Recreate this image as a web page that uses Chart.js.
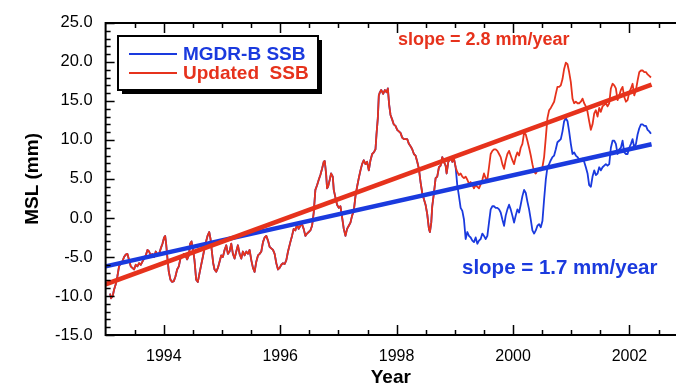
<!DOCTYPE html>
<html>
<head>
<meta charset="utf-8">
<script src="https://cdn.jsdelivr.net/npm/chart.js@4"></script>
<style>
  body { margin: 0; background: #fff; }
  #mslChart { display: block; }
</style>
</head>
<body>
<canvas id="mslChart" width="676" height="389"></canvas>
<script>
// MSL anomaly (mm) per ~10 day cycle, both SSB models agree until early 1999
var commonYears = [
  1993.076, 1993.093, 1993.122, 1993.145, 1993.174, 1993.202, 1993.231, 1993.260, 1993.288, 1993.317,
  1993.346, 1993.374, 1993.403, 1993.432, 1993.460, 1993.489, 1993.518, 1993.546, 1993.575, 1993.604,
  1993.633, 1993.661, 1993.690, 1993.719, 1993.747, 1993.776, 1993.805, 1993.833, 1993.862, 1993.891,
  1993.919, 1993.948, 1993.977, 1994.005, 1994.023, 1994.040, 1994.063, 1994.086, 1994.114, 1994.143,
  1994.172, 1994.200, 1994.229, 1994.258, 1994.286, 1994.315, 1994.344, 1994.372, 1994.401, 1994.430,
  1994.453, 1994.476, 1994.499, 1994.527, 1994.556, 1994.585, 1994.608, 1994.637, 1994.665, 1994.694,
  1994.723, 1994.751, 1994.780, 1994.803, 1994.826, 1994.849, 1994.872, 1994.900, 1994.929, 1994.958,
  1994.986, 1995.015, 1995.044, 1995.073, 1995.101, 1995.130, 1995.159, 1995.187, 1995.216, 1995.245,
  1995.273, 1995.302, 1995.331, 1995.359, 1995.388, 1995.417, 1995.445, 1995.474, 1995.503, 1995.532,
  1995.560, 1995.589, 1995.618, 1995.646, 1995.675, 1995.704, 1995.732, 1995.761, 1995.790, 1995.818,
  1995.847, 1995.876, 1995.904, 1995.933, 1995.962, 1995.990, 1996.019, 1996.048, 1996.077, 1996.105,
  1996.134, 1996.174, 1996.203, 1996.231, 1996.260, 1996.289, 1996.317, 1996.346, 1996.375, 1996.403,
  1996.432, 1996.461, 1996.490, 1996.518, 1996.547, 1996.576, 1996.604, 1996.633, 1996.662, 1996.690,
  1996.719, 1996.748, 1996.765, 1996.788, 1996.805, 1996.822, 1996.851, 1996.874, 1996.903, 1996.920,
  1996.949, 1996.977, 1997.006, 1997.035, 1997.063, 1997.092, 1997.121, 1997.149, 1997.178, 1997.207,
  1997.235, 1997.264, 1997.293, 1997.321, 1997.350, 1997.379, 1997.407, 1997.436, 1997.465, 1997.493,
  1997.522, 1997.551, 1997.580, 1997.608, 1997.637, 1997.654, 1997.677, 1997.694, 1997.712, 1997.735,
  1997.769, 1997.798, 1997.826, 1997.849, 1997.872, 1997.895, 1997.924, 1997.950, 1997.981, 1998.010,
  1998.067, 1998.096, 1998.125, 1998.182, 1998.211, 1998.239, 1998.268, 1998.297, 1998.325, 1998.354,
  1998.383, 1998.411, 1998.440, 1998.469, 1998.497, 1998.526, 1998.555, 1998.572, 1998.595, 1998.612,
  1998.641, 1998.670, 1998.698, 1998.727, 1998.756, 1998.784, 1998.813, 1998.842, 1998.859, 1998.888,
  1998.910, 1998.933, 1998.956, 1998.985, 1999.014
];
var commonMsl = [
  -9.7, -10.3, -10.0, -9.2, -8.5, -7.5, -6.2, -5.8, -5.6, -5.0,
  -4.7, -4.6, -5.4, -6.2, -6.4, -6.6, -6.0, -6.2, -5.8, -6.0,
  -5.6, -5.2, -4.8, -4.1, -4.3, -4.8, -4.6, -5.0, -4.3, -4.7,
  -4.6, -3.9, -3.3, -2.5, -2.3, -3.3, -5.2, -6.9, -7.9, -8.2,
  -8.1, -7.5, -6.6, -6.2, -5.2, -5.0, -4.6, -4.8, -5.3, -4.8,
  -3.3, -3.0, -3.9, -5.4, -7.9, -8.2, -7.3, -6.2, -5.2, -4.1,
  -3.1, -2.3, -1.8, -2.7, -4.3, -5.8, -6.6, -6.9, -6.4, -5.6,
  -4.8, -5.0, -4.1, -3.5, -4.6, -4.3, -3.3, -4.6, -5.2, -4.3,
  -3.5, -4.6, -5.2, -4.3, -4.8, -4.3, -4.6, -4.1, -5.4, -6.4,
  -6.9, -5.6, -4.8, -4.6, -4.3, -3.1, -2.5, -2.3, -2.9, -3.7,
  -3.9, -4.1, -4.6, -5.8, -6.6, -6.4, -6.0, -5.8, -5.9, -5.4,
  -4.3, -3.1, -2.3, -1.4, -1.6, -0.8, -1.4, -1.0, -0.8, -1.4,
  -2.3, -2.0, -1.8, -1.6, -1.0, 0.7, 3.6, 4.2, 4.9, 5.5,
  6.3, 7.2, 7.3, 5.7, 3.8, 4.0, 4.9, 5.7, 5.3, 3.6,
  2.6, 1.7, 1.3, 1.5, 0.1, -1.4, -2.3, -1.4, -1.0, -0.6,
  0.3, 0.9, 2.8, 4.0, 5.1, 6.1, 6.9, 7.4, 6.9, 7.2,
  6.1, 7.4, 8.2, 8.4, 8.8, 10.7, 12.8, 15.7, 16.1, 16.4,
  15.9, 16.4, 16.1, 16.6, 14.5, 13.2, 12.6, 12.0, 11.8, 11.3,
  10.9, 10.3, 10.1, 10.1, 9.5, 9.2, 8.8, 8.2, 8.0, 7.2,
  6.3, 4.6, 3.2, 2.4, 1.7, 0.5, -1.4, -1.8, -0.6, 1.5,
  3.2, 5.1, 5.3, 6.5, 6.7, 7.8, 7.2, 6.7, 5.7, 7.2,
  7.4, 7.8, 7.2, 7.6, 6.5
];

// after the split each SSB model gives its own curve
var tailYears = [
  1999.042, 1999.071, 1999.100, 1999.129, 1999.157, 1999.186, 1999.215, 1999.243, 1999.272, 1999.301,
  1999.329, 1999.358, 1999.387, 1999.415, 1999.444, 1999.473, 1999.501, 1999.530, 1999.559, 1999.587,
  1999.616, 1999.645, 1999.673, 1999.702, 1999.731, 1999.760, 1999.788, 1999.817, 1999.846, 1999.874,
  1999.903, 1999.932, 1999.960, 1999.989, 2000.018, 2000.046, 2000.075, 2000.104, 2000.132, 2000.161,
  2000.190, 2000.219, 2000.247, 2000.276, 2000.305, 2000.333, 2000.362, 2000.391, 2000.419, 2000.448,
  2000.477, 2000.505, 2000.534, 2000.563, 2000.591, 2000.620, 2000.649, 2000.677, 2000.706, 2000.735,
  2000.763, 2000.792, 2000.821, 2000.850, 2000.878, 2000.907, 2000.936, 2000.964, 2000.993, 2001.022,
  2001.050, 2001.079, 2001.108, 2001.136, 2001.165, 2001.194, 2001.222, 2001.251, 2001.280, 2001.308,
  2001.337, 2001.366, 2001.395, 2001.423, 2001.452, 2001.481, 2001.509, 2001.538, 2001.567, 2001.595,
  2001.624, 2001.653, 2001.681, 2001.710, 2001.739, 2001.767, 2001.796, 2001.825, 2001.853, 2001.882,
  2001.911, 2001.940, 2001.968, 2001.997, 2002.026, 2002.054, 2002.083, 2002.112, 2002.140, 2002.169,
  2002.198, 2002.226, 2002.255, 2002.284, 2002.312, 2002.341, 2002.370
];
var mgdrTail = [
  4.2, 2.8, 1.3, 0.9, -0.2, -2.7, -1.8, -2.3, -2.5, -2.9,
  -3.1, -2.5, -3.3, -2.9, -2.7, -2.0, -2.3, -2.7, -2.3, -0.6,
  1.1, 1.5, 1.5, 1.3, 1.3, 1.1, 0.7, -0.2, -1.0, 0.3,
  1.1, 1.7, 1.1, 0.3, -0.6, 0.3, 1.1, 0.7, 1.7, 2.8,
  3.6, 3.2, 2.1, 1.1, -0.2, -1.6, -2.0, -1.6, -1.0, -0.8,
  -1.2, -0.4, 2.4, 4.9, 6.5, 6.9, 7.4, 7.8, 8.0, 8.8,
  9.7, 9.9, 10.1, 11.1, 12.4, 12.8, 12.4, 11.1, 9.5, 8.2,
  8.4, 8.0, 7.8, 7.5, 7.4, 7.6, 7.2, 6.5, 5.7, 4.2,
  4.0, 5.3, 6.1, 5.5, 5.7, 6.5, 6.1, 6.5, 6.7, 6.9,
  6.7, 6.9, 9.0, 9.9, 9.9, 9.5, 8.2, 8.8, 9.0, 9.9,
  8.4, 8.2, 8.2, 9.0, 9.5, 10.1, 9.0, 9.5, 10.7, 11.5,
  12.0, 12.0, 11.8, 11.8, 11.3, 11.1, 10.8
];
var updatedTail = [
  5.9, 5.5, 5.7, 5.3, 5.1, 5.3, 4.9, 4.4, 4.6, 4.2,
  3.8, 4.2, 4.0, 3.8, 4.3, 4.9, 5.7, 5.1, 4.9, 6.5,
  8.2, 8.6, 8.8, 8.8, 8.6, 8.2, 7.8, 6.9, 6.3, 7.4,
  8.2, 8.6, 8.0, 7.4, 6.9, 7.8, 8.4, 8.0, 9.0, 9.5,
  10.9, 10.7, 9.9, 9.0, 8.0, 6.9, 5.9, 5.7, 6.1, 6.3,
  6.1, 6.5, 7.8, 10.3, 12.8, 13.8, 14.1, 14.5, 14.9, 15.9,
  16.8, 16.8, 17.0, 17.8, 19.1, 19.9, 19.7, 18.7, 17.4, 15.3,
  14.7, 14.9, 14.7, 14.7, 14.9, 15.3, 14.7, 14.3, 13.6, 12.4,
  11.3, 12.0, 13.4, 13.8, 13.0, 14.1, 13.6, 14.3, 14.5, 14.7,
  14.3, 14.7, 16.6, 17.2, 17.0, 16.6, 15.1, 15.7, 16.4, 16.8,
  15.5, 14.9, 15.1, 16.1, 16.6, 17.2, 15.7, 16.4, 17.6, 18.7,
  18.9, 18.9, 18.7, 18.7, 18.4, 18.2, 18.0
];

// linear fits, end points
var trendYears = [1993.0, 2002.38];
var mgdrTrend = [-6.2, 9.45];
var updatedTrend = [-8.5, 17.1];

var yearTicks = [1994, 1996, 1998, 2000, 2002];
var slopeNotes = ['slope = 2.8 mm/year', 'slope = 1.7 mm/year'];

var RED = '#e6321c';
var BLUE = '#1a3ade';
var FONT = '"Liberation Sans", Arial, Helvetica, sans-serif';

function toPoints(xs, ys) {
  return xs.map(function(x, i) { return {x: x, y: ys[i]}; });
}

var yearsAll = commonYears.concat(tailYears);
var mgdrMsl = commonMsl.concat(mgdrTail);
var updatedMsl = commonMsl.concat(updatedTail);

// axis frame, inward tick marks, boxed legend and slope notes
var decorations = {
  id: 'decorations',
  afterDatasetsDraw: function(chart) {
    var ctx = chart.ctx;
    var area = chart.chartArea;
    var xs = chart.scales.x;
    var ys = chart.scales.y;
    ctx.save();
    ctx.strokeStyle = '#000';
    ctx.lineCap = 'butt';

    ctx.lineWidth = 1.5;
    ctx.beginPath();
    for (var v = -15; v <= 25; v++) {
      var py = Math.round(ys.getPixelForValue(v)) + 0.5;
      var len = (v % 5 === 0) ? 9 : 5;
      ctx.moveTo(area.left, py);
      ctx.lineTo(area.left + len, py);
    }
    for (var t = 1993.5; t <= 2002.8; t += 0.5) {
      var px = Math.round(xs.getPixelForValue(t)) + 0.5;
      var l = (t % 2 === 0) ? 10 : 5;
      ctx.moveTo(px, area.bottom);
      ctx.lineTo(px, area.bottom - l);
      ctx.moveTo(px, area.top);
      ctx.lineTo(px, area.top + l);
    }
    ctx.stroke();

    ctx.lineWidth = 2;
    ctx.beginPath();
    ctx.moveTo(area.left, area.top);
    ctx.lineTo(area.left, area.bottom);
    ctx.moveTo(area.left - 1, area.top);
    ctx.lineTo(chart.width, area.top);
    ctx.moveTo(area.left - 1, area.bottom);
    ctx.lineTo(chart.width, area.bottom);
    ctx.stroke();

    // legend box with drop shadow
    var bx = 118, by = 36, bw = 200, bh = 54;
    ctx.fillStyle = '#000';
    ctx.fillRect(bx + 4, by + 4, bw, bh);
    ctx.fillStyle = '#fff';
    ctx.fillRect(bx, by, bw, bh);
    ctx.lineWidth = 2;
    ctx.strokeRect(bx, by, bw, bh);

    var entries = [chart.data.datasets[3], chart.data.datasets[2]];
    ctx.font = 'bold 19px ' + FONT;
    ctx.textBaseline = 'middle';
    ctx.textAlign = 'left';
    entries.forEach(function(ds, i) {
      var ly = by + 18 + i * 19;
      ctx.strokeStyle = ds.borderColor;
      ctx.lineWidth = 1.8;
      ctx.beginPath();
      ctx.moveTo(bx + 11, ly);
      ctx.lineTo(bx + 59, ly);
      ctx.stroke();
      ctx.fillStyle = ds.borderColor;
      ctx.fillText(ds.label, bx + 65, ly + 1);
    });

    ctx.font = 'bold 18px ' + FONT;
    ctx.fillStyle = RED;
    ctx.fillText(slopeNotes[0], 398, 40);
    ctx.font = 'bold 20.5px ' + FONT;
    ctx.fillStyle = BLUE;
    ctx.fillText(slopeNotes[1], 462, 268);
    ctx.restore();
  }
};

var data = {
  datasets: [
    {
      label: 'Updated trend',
      data: toPoints(trendYears, updatedTrend),
      borderColor: RED,
      borderWidth: 4.5,
      order: 0
    },
    {
      label: 'MGDR-B trend',
      data: toPoints(trendYears, mgdrTrend),
      borderColor: BLUE,
      borderWidth: 4.5,
      order: 1
    },
    {
      label: 'Updated  SSB',
      data: toPoints(yearsAll, updatedMsl),
      borderColor: RED,
      borderWidth: 1.8,
      order: 2
    },
    {
      label: 'MGDR-B SSB',
      data: toPoints(yearsAll, mgdrMsl),
      borderColor: BLUE,
      borderWidth: 1.8,
      order: 3
    }
  ]
};

var config = {
  type: 'line',
  data: data,
  options: {
    responsive: false,
    animation: false,
    devicePixelRatio: 1,
    layout: { padding: { top: 16, right: 0, bottom: 0, left: 0 } },
    elements: {
      point: { radius: 0 },
      line: { tension: 0, borderJoinStyle: 'round', fill: false }
    },
    plugins: {
      legend: { display: false },
      tooltip: { enabled: false }
    },
    scales: {
      x: {
        type: 'linear',
        min: 1993,
        max: 2002.8,
        afterBuildTicks: function(scale) {
          scale.ticks = yearTicks.map(function(v) { return {value: v}; });
        },
        afterFit: function(scale) { scale.height = 54; },
        grid: { display: false, drawTicks: false },
        border: { display: false },
        ticks: {
          color: '#000',
          font: { family: FONT, size: 16 },
          padding: 12,
          maxRotation: 0,
          autoSkip: false,
          callback: function(v) { return String(v); }
        },
        title: {
          display: true,
          text: 'Year',
          color: '#000',
          font: { family: FONT, size: 19, weight: 'bold' },
          padding: { top: 0, bottom: 0 }
        }
      },
      y: {
        min: -15,
        max: 25,
        afterFit: function(scale) { scale.width = 105.6; },
        grid: { display: false, drawTicks: false },
        border: { display: false },
        ticks: {
          stepSize: 5,
          color: '#000',
          font: { family: FONT, size: 16.5 },
          padding: 13,
          callback: function(v) { return v.toFixed(1); }
        },
        title: {
          display: true,
          text: 'MSL (mm)',
          color: '#000',
          font: { family: FONT, size: 19, weight: 'bold' },
          padding: { top: 21, bottom: 0 }
        }
      }
    }
  },
  plugins: [decorations]
};

var mslChart = new Chart(document.getElementById('mslChart'), config);
</script>
</body>
</html>
